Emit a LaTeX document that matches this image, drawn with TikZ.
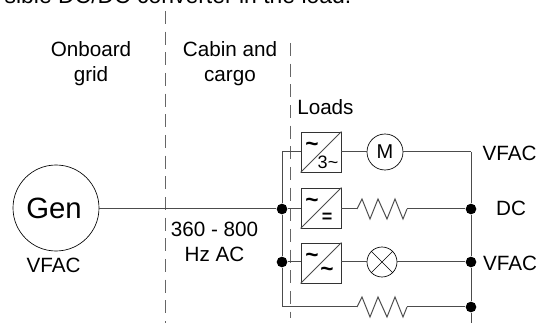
\documentclass[tikz,border=0pt]{standalone}
\usepackage{fontspec}
\setmainfont{Liberation Sans}
\usetikzlibrary{positioning,calc}

\begin{document}
\begin{tikzpicture}[
  x=0.75pt, y=-0.75pt,
  wire/.style={draw=black!70, line width=0.75pt},
  zone/.style={draw=black!60, line width=0.7pt, dash pattern=on 9.75pt off 5.75pt},
  machine/.style={circle, draw, line width=0.5pt, inner sep=0pt},
  conv/.style={rectangle, draw=black!80, line width=0.6pt, minimum size=30pt, inner sep=0pt},
  dotjoin/.style={circle, fill=black, minimum size=8pt, inner sep=0pt},
  lbl/.style={font=\fontsize{15.5pt}{18.9pt}\selectfont, align=center, inner sep=0pt},
  small/.style={font=\fontsize{13.5pt}{14pt}\selectfont, inner sep=0pt},
  wave/.style={font=\fontsize{17pt}{18pt}\selectfont\bfseries, inner sep=0pt},
  heater/.pic={\draw[wire] (-25,0) -- (-20,-10) -- (-12,10) -- (-4,-10) -- (5,10) -- (13,-10) -- (21,10) -- (25,0);}
]
\useasboundingbox (0,0) rectangle (538,323);
% Zone borders
\coordinate (za) at (165,11);
\coordinate (zb) at (165,323);
\coordinate (zc) at (290,43);
\coordinate (zd) at (290,318);
\draw[zone] (za) -- (zb);
\draw[zone] (zc) -- (zd);
% Titles
\node[lbl] (grid) at (91,64) {Onboard\\grid};
\node[lbl] (cabin) at (230,64) {Cabin and\\cargo};
\node[lbl, anchor=west] (loads) at (297,107) {Loads};
\node[lbl, font=\fontsize{17.2pt}{18pt}\selectfont, anchor=base] (cut) at (178,4) {sible DC/DC converter in the load.};
% Generator
\node[machine, minimum size=64.5pt, font=\fontsize{22pt}{24pt}\selectfont] (gen) at (56,208) {Gen\kern3pt};
\node[lbl] (genac) at (53.5,265) {VFAC};
\node[lbl] (freq) at (214.5,242) {360 - 800\\Hz AC};
% Left bus
\node[dotjoin] (ja) at (282,209) {};
\node[dotjoin] (jb) at (282,262) {};
\coordinate (bustop) at (282,152);
\coordinate (busbot) at (282,307);
% Right bus
\coordinate (rtop) at (471,152);
\node[dotjoin] (ra) at (471,209) {};
\node[dotjoin] (rb) at (471,262) {};
\node[dotjoin] (rc) at (471,307) {};
\coordinate (rbot) at (471,323);
% Converters
\node[conv] (cm) at (321,152) {};
\node[conv] (cd) at (321,208) {};
\node[conv] (cl) at (321,263) {};
\foreach \c in {cm,cd,cl} {
  \draw[wire] (\c.south west) -- (\c.north east);
  \node[wave] at ($(\c.center)+(-9,-5)$) {\char`\~};
}
\node[small] (tm) at ($(cm.center)+(7,10)$) {3\char`\~};
\node[small, font=\fontsize{13.5pt}{14pt}\selectfont\bfseries] (td) at ($(cd.center)+(6,10)$) {=};
\node[wave] (tl) at ($(cl.center)+(6,9)$) {\char`\~};
% Loads
\node[machine, minimum size=27pt, font=\fontsize{15pt}{16pt}\selectfont] (motor) at (385,152) {M};
\node[machine, minimum size=22.5pt] (lamp) at (382,262) {};
\draw[line width=0.5pt] (lamp.north west) -- (lamp.south east) (lamp.north east) -- (lamp.south west);
\path (382,209) pic {heater};
\path (382,307) pic {heater};
\coordinate (ha) at (357,209);
\coordinate (hb) at (407,209);
\coordinate (hc) at (357,307);
\coordinate (hd) at (407,307);
% Wiring
\draw[wire] (ja -| gen.east) -- (ja);
\draw[wire] (bustop) -- (ja) -- (jb) -- (busbot);
\draw[wire] (bustop) -- (cm.west);
\draw[wire] (ja) -- (ja -| cd.west);
\draw[wire] (jb) -- (jb -| cl.west);
\draw[wire] (busbot) -- (hc);
\draw[wire] (cm.east) -- (motor);
\draw[wire] (ha -| cd.east) -- (ha);
\draw[wire] (lamp -| cl.east) -- (lamp);
\draw[wire] (motor) -- (rtop);
\draw[wire] (hb) -- (ra);
\draw[wire] (lamp) -- (rb);
\draw[wire] (hd) -- (rc);
\draw[wire] (rtop) -- (ra) -- (rb) -- (rc) -- (rbot);
% Bus names
\node[lbl] (nm) at (509.5,153.5) {VFAC};
\node[lbl] (nd) at (511,208) {DC};
\node[lbl] (nl) at (510,263) {VFAC};
\end{tikzpicture}
\end{document}
